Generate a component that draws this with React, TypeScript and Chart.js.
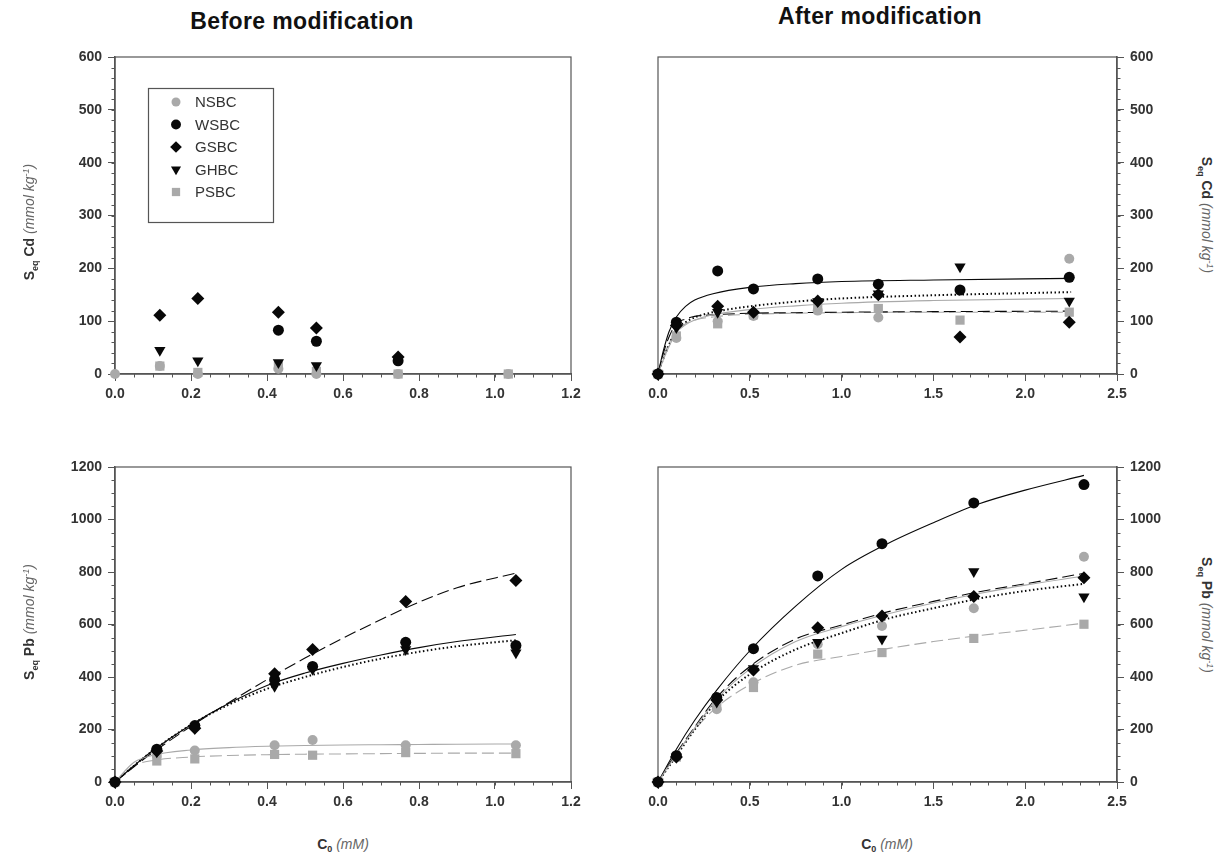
import React, { useEffect, useRef } from 'react';
import { Chart, registerables } from 'chart.js';
import { drawPoint } from 'chart.js/helpers';

Chart.register(...registerables);

// ---------------- DATA ----------------
const seriesNames = ['NSBC', 'WSBC', 'GSBC', 'GHBC', 'PSBC'];

// Top-left: Cd, before modification (C0 in mM)
const cdBeforeC0 = [0, 0.118, 0.218, 0.43, 0.53, 0.745, 1.035];
const cdBeforeNSBC = [0, 15, 0, 10, 0, 0, 0];
const cdBeforeWSBC = [null, null, null, 83, 62, 25, null];
const cdBeforeGSBC = [null, 111, 143, 117, 87, 32, null];
const cdBeforeGHBC = [null, 45, 25, 22, 16, null, null];
const cdBeforePSBC = [null, 15, 3, 15, 5, 0, 0];

// Top-right: Cd, after modification
const cdAfterC0 = [0, 0.1, 0.325, 0.52, 0.87, 1.2, 1.645, 2.24];
const cdAfterNSBC = [0, 68, 100, 110, 120, 107, null, 218];
const cdAfterWSBC = [0, 98, 195, 161, 180, 170, 159, 183];
const cdAfterGSBC = [0, 92, 128, 117, 138, 150, 70, 98];
const cdAfterGHBC = [0, 88, 117, null, 137, 152, 203, 138];
const cdAfterPSBC = [0, 72, 95, 112, 127, 124, 102, 117];
// fitted curves
const cdAfterFitC0 = [0, 0.03, 0.06, 0.1, 0.15, 0.2, 0.3, 0.5, 0.75, 1.0, 1.5, 2.25];
const cdAfterFitNSBC = [0, 28, 52, 78, 93, 102, 112, 122, 129, 134, 139, 143];
const cdAfterFitWSBC = [0, 45, 80, 108, 128, 140, 152, 164, 171, 175, 178, 181];
const cdAfterFitGSBC = [0, 40, 70, 95, 104, 109, 112, 115, 116, 117, 118, 119];
const cdAfterFitGHBC = [0, 30, 55, 85, 98, 107, 117, 128, 137, 143, 149, 155];
const cdAfterFitPSBC = [0, 32, 58, 80, 95, 102, 108, 113, 115, 116, 117, 117];

// Bottom-left: Pb, before modification
const pbBeforeC0 = [0, 0.11, 0.21, 0.42, 0.52, 0.765, 1.055];
const pbBeforeNSBC = [0, 100, 120, 140, 160, 140, 140];
const pbBeforeWSBC = [0, 125, 215, 390, 440, 532, 520];
const pbBeforeGSBC = [0, 118, 205, 412, 505, 688, 768];
const pbBeforeGHBC = [0, 115, 205, 365, 430, 505, 492];
const pbBeforePSBC = [0, 80, 88, 105, 102, 112, 108];
const pbBeforeFitC0 = [0, 0.05, 0.1, 0.2, 0.3, 0.4, 0.5, 0.6, 0.7, 0.8, 0.9, 1.055];
const pbBeforeFitNSBC = [0, 75, 102, 122, 131, 136, 139, 141, 142, 143, 144, 145];
const pbBeforeFitWSBC = [0, 62, 120, 218, 300, 368, 415, 452, 484, 512, 535, 562];
const pbBeforeFitGSBC = [0, 58, 113, 212, 303, 390, 472, 548, 619, 685, 740, 796];
const pbBeforeFitGHBC = [0, 62, 120, 218, 295, 355, 400, 438, 470, 496, 517, 540];
const pbBeforeFitPSBC = [0, 62, 82, 95, 101, 104, 106, 107, 108, 109, 110, 110];

// Bottom-right: Pb, after modification
const pbAfterC0 = [0, 0.1, 0.32, 0.52, 0.87, 1.22, 1.72, 2.32];
const pbAfterNSBC = [0, 95, 277, 380, 525, 594, 662, 858];
const pbAfterWSBC = [0, 100, 322, 508, 785, 908, 1063, 1133];
const pbAfterGSBC = [0, 95, 312, 427, 588, 632, 707, 778];
const pbAfterGHBC = [0, 95, 305, 432, 532, 545, 802, 706];
const pbAfterPSBC = [0, 95, 290, 360, 487, 493, 547, 601];
const pbAfterFitC0 = [0, 0.1, 0.2, 0.32, 0.5, 0.75, 1.0, 1.25, 1.5, 1.75, 2.0, 2.32];
const pbAfterFitNSBC = [0, 105, 205, 315, 430, 535, 592, 640, 682, 718, 750, 785];
const pbAfterFitWSBC = [0, 125, 235, 350, 500, 670, 810, 908, 988, 1060, 1112, 1168];
const pbAfterFitGSBC = [0, 110, 210, 322, 440, 545, 598, 648, 688, 725, 755, 795];
const pbAfterFitGHBC = [0, 100, 200, 307, 410, 505, 567, 622, 662, 699, 728, 755];
const pbAfterFitPSBC = [0, 110, 200, 285, 370, 445, 478, 508, 535, 558, 578, 605];

// ---------------- STYLE ----------------
const GREY = '#a9a9a9';
const BLACK = '#080808';
const STYLE: any = {
  NSBC: { color: GREY, pointStyle: 'circle', radius: 5, rotation: 0, dash: [], width: 1.1, order: 5 },
  WSBC: { color: BLACK, pointStyle: 'circle', radius: 5.5, rotation: 0, dash: [], width: 1.1, order: 2 },
  GSBC: { color: BLACK, pointStyle: 'rectRot', radius: 6.5, rotation: 0, dash: [12, 5], width: 1.1, order: 1 },
  GHBC: { color: BLACK, pointStyle: 'triangle', radius: 6.5, rotation: 180, dash: [1.5, 2.5], width: 2, order: 3 },
  PSBC: { color: GREY, pointStyle: 'rect', radius: 6.5, rotation: 0, dash: [12, 5], width: 1.1, order: 4 },
};

const TICK_FONT = { family: '"Liberation Sans", Arial, sans-serif', size: 14, weight: 'bold' as const };
const AXIS_COLOR = '#555';

function buildDatasets(x: number[], vals: any[], fitX: number[] | null, fits: any[] | null) {
  const ds: any[] = [];
  seriesNames.forEach((name, k) => {
    const st = STYLE[name];
    const pts = x.map((v, i) => ({ x: v, y: vals[k][i] })).filter((p) => p.y !== null);
    ds.push({
      label: name,
      data: pts,
      showLine: false,
      pointStyle: st.pointStyle,
      pointRadius: st.radius,
      pointRotation: st.rotation,
      pointBackgroundColor: st.color,
      pointBorderColor: st.color,
      pointBorderWidth: 0,
      backgroundColor: st.color,
      borderColor: st.color,
      order: st.order,
      clip: false,
    });
  });
  if (fitX && fits) {
    seriesNames.forEach((name, k) => {
      const st = STYLE[name];
      ds.push({
        label: name + ' fit',
        data: fitX.map((v, i) => ({ x: v, y: fits[k][i] })),
        showLine: true,
        pointRadius: 0,
        borderColor: st.color,
        borderWidth: st.width,
        borderDash: st.dash,
        cubicInterpolationMode: 'monotone',
        fill: false,
        order: 10,
        clip: false,
      });
    });
  }
  return ds;
}

const framePlugin = {
  id: 'frame',
  beforeDatasetsDraw(chart: any, _args: any, opts: any) {
    const { ctx, chartArea } = chart;
    const xs = chart.scales.x;
    const ys = chart.scales.y;
    ctx.save();
    ctx.strokeStyle = AXIS_COLOR;
    ctx.lineWidth = 1.2;
    ctx.strokeRect(chartArea.left, chartArea.top, chartArea.right - chartArea.left, chartArea.bottom - chartArea.top);
    ctx.lineWidth = 1;
    ctx.beginPath();
    for (let v = xs.min; v <= xs.max + 1e-9; v += opts.minorX) {
      const px = Math.round(xs.getPixelForValue(v)) + 0.5;
      ctx.moveTo(px, chartArea.bottom);
      ctx.lineTo(px, chartArea.bottom + 3.5);
    }
    for (let v = ys.min; v <= ys.max + 1e-9; v += opts.minorY) {
      const py = Math.round(ys.getPixelForValue(v)) + 0.5;
      if (opts.right) {
        ctx.moveTo(chartArea.right, py);
        ctx.lineTo(chartArea.right + 3.5, py);
      } else {
        ctx.moveTo(chartArea.left, py);
        ctx.lineTo(chartArea.left - 3.5, py);
      }
    }
    ctx.stroke();
    ctx.restore();
  },
};

const legendPlugin = {
  id: 'boxLegend',
  afterDraw(chart: any, _args: any, opts: any) {
    if (!opts || !opts.show) return;
    const { ctx, chartArea } = chart;
    const bx = chartArea.left + 33;
    const by = chartArea.top + 31;
    ctx.save();
    ctx.strokeStyle = '#555';
    ctx.lineWidth = 1.2;
    ctx.strokeRect(bx + 0.5, by + 0.5, 125, 134);
    ctx.font = '15px "Liberation Sans", Arial, sans-serif';
    ctx.textBaseline = 'middle';
    seriesNames.forEach((name, i) => {
      const st = STYLE[name];
      const y = by + 14 + i * 22.5;
      ctx.fillStyle = st.color;
      ctx.strokeStyle = st.color;
      drawPoint(ctx, { pointStyle: st.pointStyle, radius: st.radius * 0.9, rotation: st.rotation, borderWidth: 0 } as any, bx + 28, y);
      ctx.fillStyle = '#333';
      ctx.fillText(name, bx + 47, y + 1);
    });
    ctx.restore();
  },
};

type PanelProps = {
  left: number; top: number; width: number; height: number;
  pad: { left: number; right: number; top: number; bottom: number };
  yW: number; xH: number; right: boolean;
  xMax: number; xStep: number; xMinor: number;
  yMax: number; yStep: number; yMinor: number;
  datasets: any[]; legend?: boolean;
};

function Panel(p: PanelProps) {
  const ref = useRef<HTMLCanvasElement | null>(null);
  useEffect(() => {
    if (!ref.current) return;
    const chart = new Chart(ref.current, {
      type: 'scatter',
      data: { datasets: p.datasets },
      plugins: [framePlugin, legendPlugin],
      options: {
        animation: false,
        responsive: false,
        devicePixelRatio: 1,
        layout: { padding: p.pad, autoPadding: false },
        plugins: {
          legend: { display: false },
          tooltip: { enabled: false },
          frame: { minorX: p.xMinor, minorY: p.yMinor, right: p.right },
          boxLegend: { show: !!p.legend },
        } as any,
        scales: {
          x: {
            type: 'linear',
            min: 0,
            max: p.xMax,
            ticks: {
              stepSize: p.xStep,
              color: '#333',
              font: TICK_FONT,
              padding: 5,
              maxRotation: 0,
              callback: (v: any) => Number(v).toFixed(1),
            },
            grid: { drawOnChartArea: false, drawTicks: true, tickLength: 7, color: AXIS_COLOR, lineWidth: 1 },
            border: { display: true, color: AXIS_COLOR, width: 1.5 },
            afterFit: (s: any) => {
              s.height = p.xH;
              s.paddingLeft = 0; s.paddingRight = 0;
            },
          },
          y: {
            type: 'linear',
            position: p.right ? 'right' : 'left',
            min: 0,
            max: p.yMax,
            ticks: {
              stepSize: p.yStep,
              color: '#333',
              font: TICK_FONT,
              padding: 6,
              callback: (v: any) => String(Math.round(Number(v))),
            },
            grid: { drawOnChartArea: false, drawTicks: true, tickLength: 7, color: AXIS_COLOR, lineWidth: 1 },
            border: { display: true, color: AXIS_COLOR, width: 1.5 },
            afterFit: (s: any) => {
              s.width = p.yW;
              s.paddingTop = 0; s.paddingBottom = 0;
            },
          },
        } as any,
      },
    });
    return () => chart.destroy();
  }, []);
  return (
    <canvas
      ref={ref}
      width={p.width}
      height={p.height}
      style={{ position: 'absolute', left: p.left, top: p.top, width: p.width, height: p.height }}
    />
  );
}

const FONT = '"Liberation Sans", Arial, sans-serif';

function YTitle({ x, y, metal, rot }: { x: number; y: number; metal: string; rot: number }) {
  return (
    <div
      style={{
        position: 'absolute', left: x, top: y, width: 240, textAlign: 'center', whiteSpace: 'nowrap',
        transform: `translate(-50%, -50%) rotate(${rot}deg)`, fontFamily: FONT, fontSize: 14, lineHeight: '16px',
      }}
    >
      <span style={{ fontWeight: 'bold', color: '#333' }}>
        S<sub style={{ fontSize: 9 }}>eq</sub> {metal}
      </span>{' '}
      <span style={{ fontStyle: 'italic', color: '#666' }}>
        (mmol kg<sup style={{ fontSize: 9 }}>-1</sup>)
      </span>
    </div>
  );
}

function XTitle({ x, y }: { x: number; y: number }) {
  return (
    <div
      style={{
        position: 'absolute', left: x, top: y, transform: 'translate(-50%, -50%)', whiteSpace: 'nowrap',
        fontFamily: FONT, fontSize: 14,
      }}
    >
      <span style={{ fontWeight: 'bold', color: '#333' }}>
        C<sub style={{ fontSize: 9 }}>0</sub>
      </span>{' '}
      <span style={{ fontStyle: 'italic', color: '#666' }}>(mM)</span>
    </div>
  );
}

export default function App() {
  useEffect(() => {
    document.body.style.margin = '0';
  }, []);

  const tl = buildDatasets(cdBeforeC0, [cdBeforeNSBC, cdBeforeWSBC, cdBeforeGSBC, cdBeforeGHBC, cdBeforePSBC], null, null);
  const tr = buildDatasets(cdAfterC0, [cdAfterNSBC, cdAfterWSBC, cdAfterGSBC, cdAfterGHBC, cdAfterPSBC], cdAfterFitC0,
    [cdAfterFitNSBC, cdAfterFitWSBC, cdAfterFitGSBC, cdAfterFitGHBC, cdAfterFitPSBC]);
  const bl = buildDatasets(pbBeforeC0, [pbBeforeNSBC, pbBeforeWSBC, pbBeforeGSBC, pbBeforeGHBC, pbBeforePSBC], pbBeforeFitC0,
    [pbBeforeFitNSBC, pbBeforeFitWSBC, pbBeforeFitGSBC, pbBeforeFitGHBC, pbBeforeFitPSBC]);
  const br = buildDatasets(pbAfterC0, [pbAfterNSBC, pbAfterWSBC, pbAfterGSBC, pbAfterGHBC, pbAfterPSBC], pbAfterFitC0,
    [pbAfterFitNSBC, pbAfterFitWSBC, pbAfterFitGSBC, pbAfterFitGHBC, pbAfterFitPSBC]);

  return (
    <div style={{ position: 'relative', width: 1219, height: 859, background: '#fff', overflow: 'hidden' }}>
      <div style={{ position: 'absolute', left: 302, top: 21, transform: 'translate(-50%, -50%)', fontFamily: FONT, fontWeight: 'bold', fontSize: 23, color: '#111', whiteSpace: 'nowrap', letterSpacing: 0.4 }}>
        Before modification
      </div>
      <div style={{ position: 'absolute', left: 880, top: 16, transform: 'translate(-50%, -50%)', fontFamily: FONT, fontWeight: 'bold', fontSize: 23, color: '#111', whiteSpace: 'nowrap', letterSpacing: 0.4 }}>
        After modification
      </div>

      <Panel left={40} top={40} width={560} height={380} pad={{ left: 0, right: 29, top: 17, bottom: 0 }}
        yW={75} xH={46} right={false} xMax={1.2} xStep={0.2} xMinor={0.05} yMax={600} yStep={100} yMinor={20}
        datasets={tl} legend />
      <Panel left={620} top={40} width={560} height={380} pad={{ left: 38, right: 0, top: 17, bottom: 0 }}
        yW={63} xH={46} right={true} xMax={2.5} xStep={0.5} xMinor={0.1} yMax={600} yStep={100} yMinor={20}
        datasets={tr} />
      <Panel left={40} top={440} width={560} height={380} pad={{ left: 0, right: 29, top: 27, bottom: 0 }}
        yW={75} xH={38} right={false} xMax={1.2} xStep={0.2} xMinor={0.05} yMax={1200} yStep={200} yMinor={50}
        datasets={bl} />
      <Panel left={620} top={440} width={560} height={380} pad={{ left: 38, right: 0, top: 27, bottom: 0 }}
        yW={63} xH={38} right={true} xMax={2.5} xStep={0.5} xMinor={0.1} yMax={1200} yStep={200} yMinor={50}
        datasets={br} />

      <YTitle x={30} y={222} metal="Cd" rot={-90} />
      <YTitle x={30} y={622} metal="Pb" rot={-90} />
      <YTitle x={1206} y={215} metal="Cd" rot={90} />
      <YTitle x={1206} y={615} metal="Pb" rot={90} />
      <XTitle x={343} y={845} />
      <XTitle x={887} y={845} />
    </div>
  );
}
